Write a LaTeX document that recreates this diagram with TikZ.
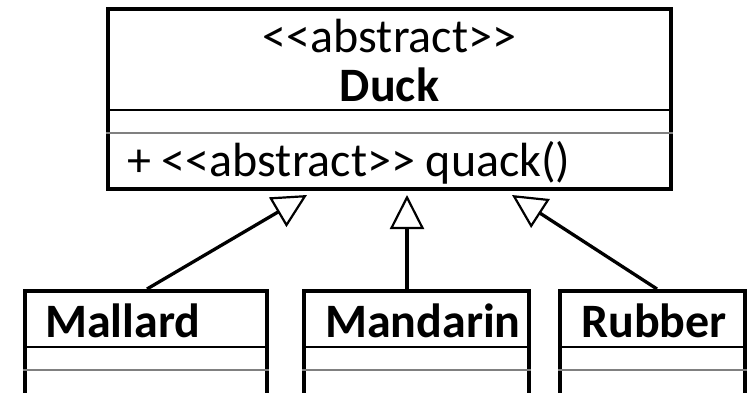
\documentclass[tikz,border=0pt]{standalone}
\usepackage{fontspec}
\setmainfont{Carlito}
\usetikzlibrary{arrows.meta}

\tikzset{
  umlbox/.style={draw, rectangle, line width=4pt, inner sep=0pt},
  sepline/.style={line width=1.3pt},
  sepgray/.style={line width=1.6pt, black!50},
  gen/.style={line width=3.3pt, -{Triangle[open, length=34pt, width=34pt, line width=2.2pt]}},
  txt/.style={inner sep=0pt, font=\fontsize{48}{56}\selectfont},
  ctitle/.style={txt, font=\fontsize{48}{56}\selectfont\bfseries},
}

\begin{document}
\begin{tikzpicture}[x=1pt, y=-1pt]
      \useasboundingbox (0,0) rectangle (750,393);
      \clip (0,0) rectangle (750,393);
      % abstract class
      \node[umlbox, minimum width=563pt, minimum height=180pt] (duck) at (389.5, 99) {};
      \draw[sepline] (duck.west |- 0,110) -- (duck.east |- 0,110);
      \draw[sepgray] (duck.west |- 0,133) -- (duck.east |- 0,133);
      \node[txt, anchor=base] (stereo) at (389.5, 53) {<{}<abstract>{}>};
      \node[ctitle, anchor=base] (dname) at (389.5, 102) {Duck};
      \node[txt, anchor=base west] (quack) at (127, 176) {+ <{}<abstract>{}> quack()};
      % subclasses
      \node[umlbox, minimum width=242pt, minimum height=160pt] (mallard) at (146, 371) {};
      \node[umlbox, minimum width=225pt, minimum height=160pt] (mandarin) at (416.5, 371) {};
      \node[umlbox, minimum width=185pt, minimum height=160pt] (rubber) at (652.5, 371) {};
      \foreach \c in {mallard, mandarin, rubber} {
        \draw[sepline] (\c.west |- 0,347) -- (\c.east |- 0,347);
        \draw[sepgray] (\c.west |- 0,370) -- (\c.east |- 0,370);
      }
      \node[ctitle, anchor=base west] (mname) at (45, 337) {Mallard};
      \node[ctitle, anchor=base west] (dname2) at (325, 337) {Mandarin};
      \node[ctitle, anchor=base west] (rname) at (581, 337) {Rubber};
      % generalisation
      \draw[gen] ([xshift=1pt]mallard.north) -- ([xshift=-82.5pt, yshift=-4pt]duck.south);
      \draw[gen] ([xshift=-9.5pt]mandarin.north) -- ([xshift=17.5pt, yshift=-4pt]duck.south);
      \draw[gen] ([xshift=4.5pt]rubber.north) -- ([xshift=122.5pt, yshift=-4pt]duck.south);
    \end{tikzpicture}
\end{document}
